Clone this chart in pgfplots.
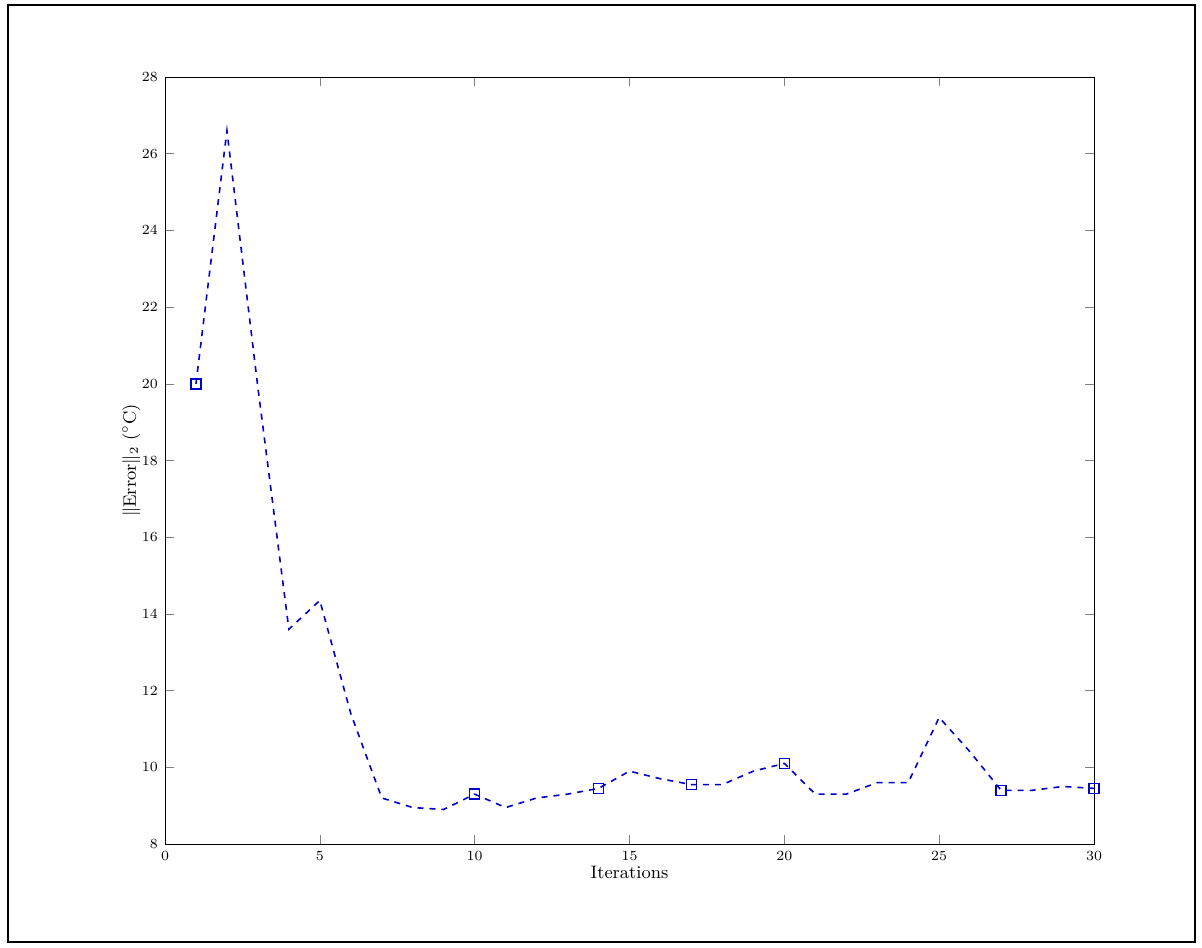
\documentclass[border=0pt]{standalone}
\usepackage{pgfplots}
\pgfplotsset{compat=1.18}
\begin{document}
\begin{tikzpicture}[x=1pt,y=1pt]
\path[use as bounding box] (0,0) rectangle (601,473.5);
\draw[line width=1.2pt] (4,2.5) rectangle (597.5,471);
\begin{axis}[at={(82.5pt,51.5pt)},anchor=south west,scale only axis,
 width=464.5pt,height=383.5pt,xmin=0,xmax=30,ymin=8,ymax=28,
 xtick={0,5,...,30},ytick={8,10,...,28},
 tick label style={font=\scriptsize},label style={font=\small},
 xlabel={Iterations},ylabel={$\|\mathrm{Error}\|_2$ ($^\circ$C)},
 xlabel style={yshift=4pt},ylabel style={yshift=-6pt},
 tick align=inside,ticks=both]
\addplot[blue!80!black,thick,dashed,mark=square,mark size=2.5pt,mark options={solid},
 mark indices={1,10,14,17,20,27,30}] coordinates {
(1,20)(2,26.6)(3,19.9)(4,13.6)(5,14.35)(6,11.4)(7,9.2)(8,8.95)(9,8.9)(10,9.3)
(11,8.95)(12,9.2)(13,9.3)(14,9.45)(15,9.9)(16,9.7)(17,9.55)(18,9.55)(19,9.9)(20,10.1)
(21,9.3)(22,9.3)(23,9.6)(24,9.6)(25,11.3)(26,10.4)(27,9.4)(28,9.4)(29,9.5)(30,9.45)};
\end{axis}
\end{tikzpicture}
\end{document}
